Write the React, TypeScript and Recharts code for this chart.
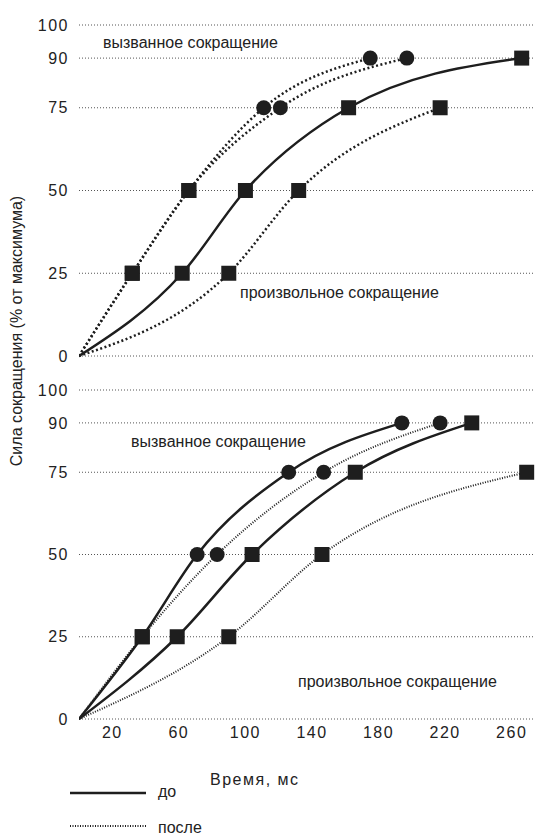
import { LineChart, Line, XAxis, YAxis, CartesianGrid } from "recharts";

// force levels (% of max) and time (ms) needed to reach each level
const LEVELS = [0, 25, 50, 75, 90];
const Y_TICKS = [0, 25, 50, 75, 90, 100];
const X_TICKS = [20, 60, 100, 140, 180, 220, 260];

// top panel
const topEvokedA = [0, 32, 66, 111, 175];
const topEvokedB = [0, 32, 66, 121, 197];
const topVolBefore = [0, 62, 100, 162, 266];
const topVolAfter = [0, 90, 132, 217];
const topEvokedMarks = ["", "sq", "sq", "ci", "ci"];

// bottom panel
const botEvokedBefore = [0, 38, 71, 126, 194];
const botEvokedAfter = [0, 38, 83, 147, 217];
const botVolBefore = [0, 59, 104, 166, 236];
const botVolAfter = [0, 90, 146, 269];
const botEvokedMarks = ["", "sq", "ci", "ci", "ci"];

const volMarks = ["", "sq", "sq", "sq", "sq"];

const INK = "#1e1e1e";
const FONT = "'Liberation Sans', Arial, sans-serif";

const toPoints = (times: number[], marks: string[]) =>
  times.map((t, i) => ({ x: t, y: LEVELS[i], m: marks[i] }));

const Marker = (props: any) => {
  const { cx, cy, payload, index } = props;
  if (payload.m === "sq")
    return <rect key={index} x={cx - 7.5} y={cy - 7.5} width={15} height={15} fill={INK} />;
  if (payload.m === "ci") return <circle key={index} cx={cx} cy={cy} r={7.5} fill={INK} />;
  return <g key={index} />;
};

const tickStyle = { fontSize: 16, fill: "#222", fontFamily: FONT, letterSpacing: 1.5 };

function Panel({
  series,
  showX,
  height,
  bottom,
}: {
  series: { data: any[]; dotted: boolean; fine?: boolean }[];
  showX: boolean;
  height: number;
  bottom: number;
}) {
  return (
    <LineChart width={535} height={height} margin={{ top: 25, right: 0, bottom, left: 0 }}>
      <CartesianGrid vertical={false} stroke="#555" strokeDasharray="1 2" />
      <XAxis
        type="number"
        dataKey="x"
        domain={[0, 274]}
        ticks={X_TICKS}
        hide={!showX}
        axisLine={false}
        tickLine={false}
        height={30}
        tick={tickStyle}
        allowDataOverflow
      />
      <YAxis
        type="number"
        domain={[0, 100]}
        ticks={Y_TICKS}
        width={79}
        axisLine={false}
        tickLine={false}
        tick={tickStyle}
        tickMargin={4}
      />
      {series.map((s, i) => (
        <Line
          key={i}
          data={s.data}
          dataKey="y"
          type="monotone"
          stroke={INK}
          strokeWidth={s.dotted ? (s.fine ? 2 : 2.5) : 2.5}
          strokeDasharray={s.dotted ? (s.fine ? "1 1.5" : "2 2.5") : undefined}
          dot={Marker}
          activeDot={false}
          isAnimationActive={false}
        />
      ))}
    </LineChart>
  );
}

const textStyle = (left: number, top: number, extra: any = {}) => ({
  position: "absolute" as const,
  left,
  top,
  fontSize: 16,
  lineHeight: "18px",
  fontFamily: FONT,
  color: "#222",
  whiteSpace: "nowrap" as const,
  ...extra,
});

export default function App() {
  return (
    <div style={{ position: "absolute", left: 0, top: 0, width: 535, height: 835 }}>
      <div style={{ position: "absolute", left: 0, top: 0 }}>
        <Panel
          height={370}
          bottom={14}
          showX={false}
          series={[
            { data: toPoints(topEvokedA, topEvokedMarks), dotted: true },
            { data: toPoints(topEvokedB, topEvokedMarks), dotted: true },
            { data: toPoints(topVolBefore, volMarks), dotted: false },
            { data: toPoints(topVolAfter, volMarks), dotted: true },
          ]}
        />
      </div>
      <div style={{ position: "absolute", left: 0, top: 365 }}>
        <Panel
          height={384}
          bottom={0}
          showX={true}
          series={[
            { data: toPoints(botEvokedBefore, botEvokedMarks), dotted: false },
            { data: toPoints(botEvokedAfter, botEvokedMarks), dotted: true, fine: true },
            { data: toPoints(botVolBefore, volMarks), dotted: false },
            { data: toPoints(botVolAfter, volMarks), dotted: true, fine: true },
          ]}
        />
      </div>

      <div style={textStyle(103, 34)}>вызванное сокращение</div>
      <div style={textStyle(240, 284)}>произвольное сокращение</div>
      <div style={textStyle(131, 433)}>вызванное сокращение</div>
      <div style={textStyle(298, 673)}>произвольное сокращение</div>
      <div style={textStyle(210, 771, { letterSpacing: 1.5 })}>Время, мс</div>

      <div
        style={textStyle(17, 331, {
          transform: "translate(-50%, -50%) rotate(-90deg)",
        })}
      >
        Сила сокращения (% от максимума)
      </div>

      <svg style={{ position: "absolute", left: 0, top: 780 }} width={160} height={55}>
        <line x1={70} x2={146} y1={13} y2={13} stroke={INK} strokeWidth={2.5} />
        <line x1={70} x2={146} y1={46} y2={46} stroke={INK} strokeWidth={2} strokeDasharray="1 1.5" />
      </svg>
      <div style={textStyle(158, 783)}>до</div>
      <div style={textStyle(158, 819)}>после</div>
    </div>
  );
}
